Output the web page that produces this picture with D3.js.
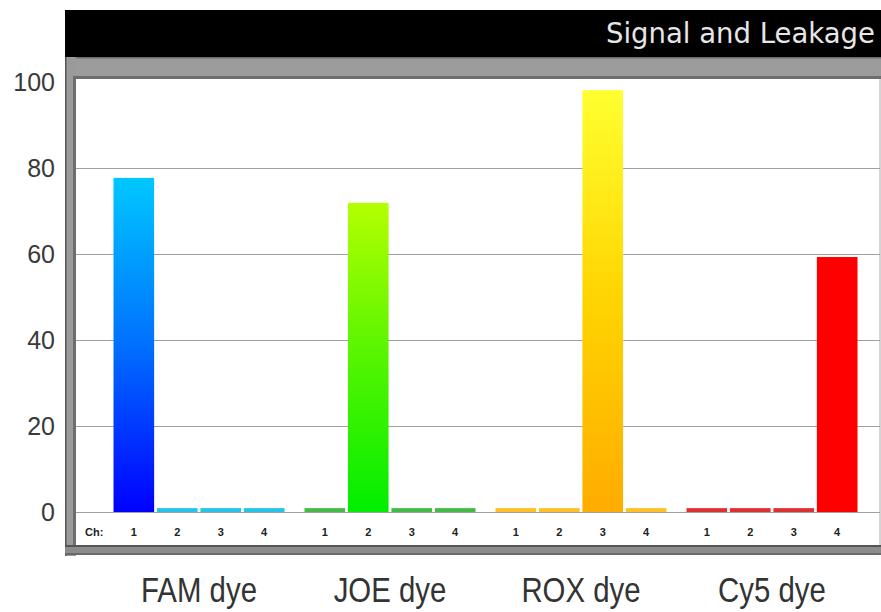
<!DOCTYPE html>
<html>
<head>
<meta charset="utf-8">
<script src="https://cdn.jsdelivr.net/npm/d3@7"></script>
<style>
  html, body { margin: 0; padding: 0; background: #fff; }
  svg { display: block; }
</style>
</head>
<body>
<svg id="chart" width="881" height="612"></svg>
<script>
// ---- data ----
const dyes = ["FAM dye", "JOE dye", "ROX dye", "Cy5 dye"];
const channels = ["1", "2", "3", "4"];
const famValues = [77.7, 0.9, 0.9, 0.9];
const joeValues = [0.9, 71.9, 0.9, 0.9];
const roxValues = [0.9, 0.9, 98.1, 0.9];
const cy5Values = [0.9, 0.9, 0.9, 59.3];
const yTicks = [0, 20, 40, 60, 80, 100];
const title = "Signal and Leakage";

// ---- styles ----
const seriesValues = [famValues, joeValues, roxValues, cy5Values];
const gradStops = [
  ["#0000ff", "#0070ff", "#00c8ff"],   // FAM: bottom -> top
  ["#00ee00", "#55f500", "#b4ff00"],   // JOE
  ["#ffac00", "#ffd400", "#ffff30"],   // ROX
  ["#ff0000", "#ff0000", "#ff0000"]    // Cy5
];
const leakColors = ["#22c4ea", "#44bb44", "#ffc125", "#dd3030"];

const svg = d3.select("#chart");
const W = 881;

// frame geometry
const plotLeft = 76, plotRight = 880, plotTop = 79, plotBottom = 545;

const y = d3.scaleLinear().domain([0, 100]).range([512, 82]);
const xGroup = d3.scaleBand().domain(dyes).range([103.5, 867.5]).padding(0);
const xCh = d3.scaleBand().domain(channels).range([10, xGroup.bandwidth() - 10]).paddingInner(0.065);

// defs: gradients
const defs = svg.append("defs");
gradStops.forEach((stops, i) => {
  const g = defs.append("linearGradient")
    .attr("id", "grad" + i)
    .attr("gradientUnits", "userSpaceOnUse")
    .attr("x1", 0).attr("x2", 0)
    .attr("y1", y(0)).attr("y2", y(seriesValues[i][i]));
  g.append("stop").attr("offset", "0%").attr("stop-color", stops[0]);
  g.append("stop").attr("offset", "50%").attr("stop-color", stops[1]);
  g.append("stop").attr("offset", "100%").attr("stop-color", stops[2]);
});

// title bar
svg.append("rect").attr("x", 65).attr("y", 10).attr("width", W - 65).attr("height", 47).attr("fill", "#000");
svg.append("text")
  .attr("x", 875).attr("y", 43)
  .attr("text-anchor", "end")
  .attr("font-family", "DejaVu Sans, sans-serif")
  .attr("font-size", 27.5)
  .attr("fill", "#e6e6e6")
  .text(title);

// gray band under title
svg.append("rect").attr("x", 65).attr("y", 57).attr("width", W - 65).attr("height", 22).attr("fill", "#9c9c9c");
svg.append("rect").attr("x", 65).attr("y", 57).attr("width", W - 65).attr("height", 1.5).attr("fill", "#6a6a6a");
svg.append("rect").attr("x", 65).attr("y", 76).attr("width", W - 65).attr("height", 3).attr("fill", "#6e6e6e");

// left frame
svg.append("rect").attr("x", 65).attr("y", 57).attr("width", 11).attr("height", 499).attr("fill", "#9a9a9a");
svg.append("rect").attr("x", 65).attr("y", 57).attr("width", 1.5).attr("height", 499).attr("fill", "#555");
svg.append("rect").attr("x", 73).attr("y", 76).attr("width", 3).attr("height", 469).attr("fill", "#6e6e6e");

// plot area
svg.append("rect").attr("x", plotLeft).attr("y", plotTop).attr("width", plotRight - plotLeft).attr("height", plotBottom - plotTop).attr("fill", "#fff");
svg.append("line").attr("x1", plotRight).attr("x2", plotRight).attr("y1", plotTop).attr("y2", plotBottom).attr("stroke", "#aaa").attr("stroke-width", 1);

// bottom frame
svg.append("rect").attr("x", 65).attr("y", 545).attr("width", W - 65).attr("height", 10).attr("fill", "#8c8c8c");
svg.append("rect").attr("x", 65).attr("y", 545).attr("width", W - 65).attr("height", 2).attr("fill", "#555");
svg.append("rect").attr("x", 65).attr("y", 553).attr("width", W - 65).attr("height", 2).attr("fill", "#6a6a6a");

// gridlines
svg.append("g").selectAll("line").data(yTicks.filter(d => d < 100)).join("line")
  .attr("x1", plotLeft).attr("x2", plotRight)
  .attr("y1", d => Math.round(y(d)) + 0.5).attr("y2", d => Math.round(y(d)) + 0.5)
  .attr("stroke", "#a0a0a0").attr("stroke-width", 1);

// y tick labels
svg.append("g").selectAll("text").data(yTicks).join("text")
  .attr("x", 55).attr("y", d => y(d))
  .attr("dy", "0.36em")
  .attr("text-anchor", "end")
  .attr("font-family", "Liberation Sans, Arial, sans-serif")
  .attr("font-size", 25)
  .attr("fill", "#3a3a3a")
  .text(d => d);

// bars
const groups = svg.append("g").selectAll("g").data(dyes).join("g")
  .attr("transform", d => `translate(${xGroup(d)},0)`);

groups.each(function (dye, gi) {
  const vals = seriesValues[gi];
  d3.select(this).selectAll("rect").data(channels).join("rect")
    .attr("x", c => xCh(c))
    .attr("width", xCh.bandwidth())
    .attr("y", (c, ci) => y(vals[ci]))
    .attr("height", (c, ci) => y(0) - y(vals[ci]))
    .attr("fill", (c, ci) => ci === gi ? `url(#grad${gi})` : leakColors[gi]);

  // channel numbers
  d3.select(this).selectAll("text").data(channels).join("text")
    .attr("x", c => xCh(c) + xCh.bandwidth() / 2)
    .attr("y", 536)
    .attr("text-anchor", "middle")
    .attr("font-family", "Liberation Sans, Arial, sans-serif")
    .attr("font-weight", "bold")
    .attr("font-size", 11)
    .attr("fill", "#222")
    .text(c => c);

  // dye labels
  const cx = xGroup.bandwidth() / 2;
  d3.select(this).append("text")
    .attr("transform", `translate(${cx},602) scale(0.84,1)`)
    .attr("text-anchor", "middle")
    .attr("font-family", "Liberation Sans, Arial, sans-serif")
    .attr("font-size", 35)
    .attr("fill", "#333")
    .text(dye);
});

// Ch: label
svg.append("text")
  .attr("x", 85).attr("y", 536)
  .attr("font-family", "Liberation Sans, Arial, sans-serif")
  .attr("font-weight", "bold")
  .attr("font-size", 11)
  .attr("fill", "#222")
  .text("Ch:");
</script>
</body>
</html>
